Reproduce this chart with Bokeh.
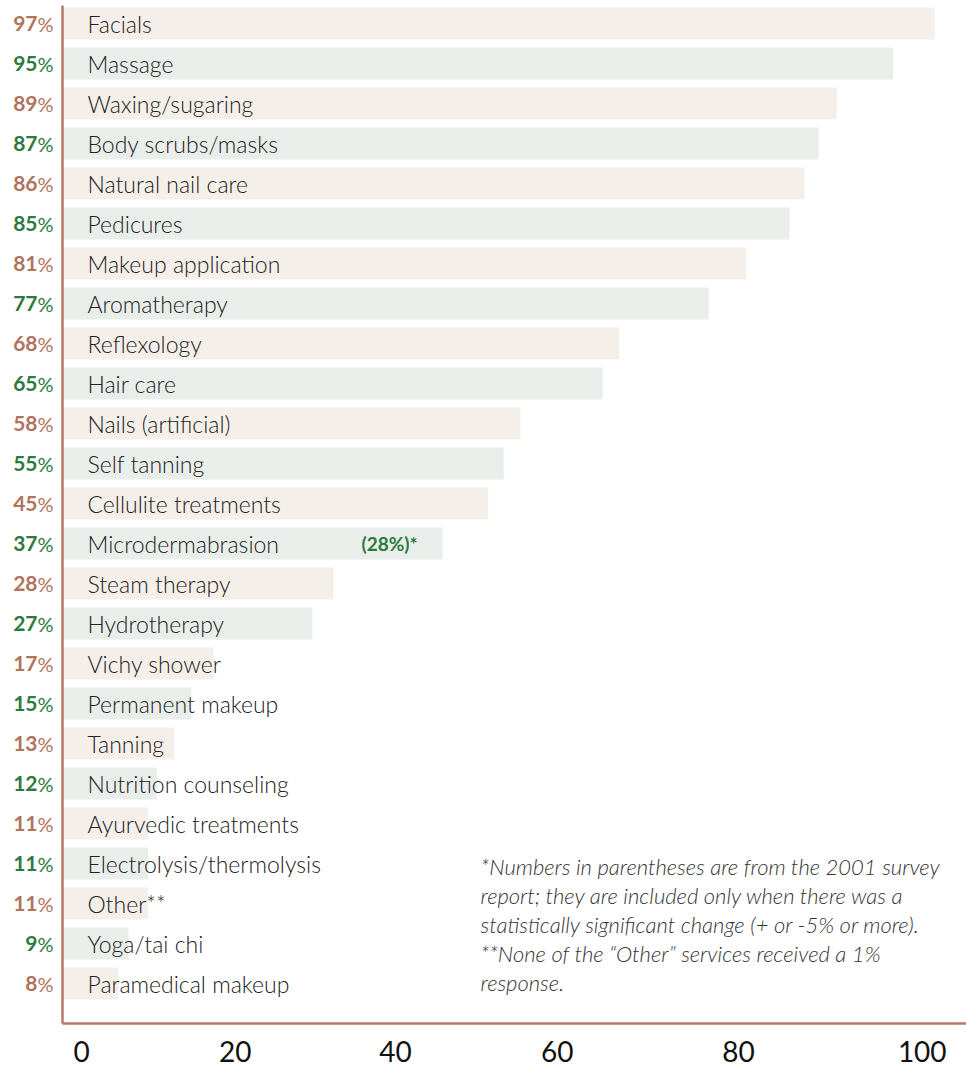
from bokeh.plotting import figure
from bokeh.models import Range1d, ColumnDataSource
from bokeh.core.properties import value
from bokeh.embed import file_html
from bokeh.resources import INLINE

# ---- data ----
services = ["Facials", "Massage", "Waxing/sugaring", "Body scrubs/masks", "Natural nail care",
            "Pedicures", "Makeup application", "Aromatherapy", "Reflexology", "Hair care",
            "Nails (artificial)", "Self tanning", "Cellulite treatments", "Microdermabrasion",
            "Steam therapy", "Hydrotherapy", "Vichy shower", "Permanent makeup", "Tanning",
            "Nutrition counseling", "Ayurvedic treatments", "Electrolysis/thermolysis",
            "Other**", "Yoga/tai chi", "Paramedical makeup"]
pct = [97, 95, 89, 87, 86, 85, 81, 77, 68, 65, 58, 55, 45, 37, 28, 27, 17, 15, 13, 12, 11, 11, 11, 9, 8]
# bar lengths as drawn in the picture, in axis units
bar_len = [108.7, 103.4, 96.2, 93.9, 92.1, 90.2, 84.7, 79.9, 68.5, 66.4, 55.9, 53.8, 51.8, 46.0,
           32.1, 29.4, 16.8, 14.0, 11.8, 9.6, 8.5, 8.5, 8.5, 6.0, 4.7]
prev_index = [13]
prev_text = ["(28%)*"]
tick_pos = [0, 19.6, 40.0, 60.6, 83.7, 107.1]
tick_labels = ["0", "20", "40", "60", "80", "100"]
footnote_lines = ["*Numbers in parentheses are from the 2001 survey",
                  "report; they are included only when there was a",
                  "statistically significant change (+ or -5% or more).",
                  "**None of the \u201cOther\u201d services received a 1%",
                  "response."]

# ---- styling ----
BEIGE = "#f5efea"
SAGE = "#e9eeea"
BROWN = "#b0735c"
GREEN = "#2e7a3e"
AXIS = "#b57a66"
TXT = "#222222"
FONT = value("Lato")
LIGHT = value("Lato Light")

W, H = 966, 1068
PX_X = 7.85          # px per axis unit
PX_Y = 40.0          # px per row
x_start = -81 / PX_X
x_end = x_start + W / PX_X
y_top = -23 / PX_Y
y_bot = y_top + H / PX_Y
axis_x = x_start + 62 / PX_X
axis_y = y_top + 1023 / PX_Y

n = len(services)
rows = list(range(n))
src = ColumnDataSource(dict(
    y=rows,
    svc=services,
    num=[str(v) for v in pct],
    pc=["%"] * n,
    right=bar_len,
    left=[axis_x] * n,
    fill=[BEIGE if i % 2 == 0 else SAGE for i in rows],
    tcol=[BROWN if i % 2 == 0 else GREEN for i in rows],
    ax=[axis_x] * n,
))

p = figure(width=W, height=H, output_backend="svg", toolbar_location=None,
           x_range=Range1d(x_start, x_end), y_range=Range1d(y_bot, y_top),
           x_axis_type=None, y_axis_type=None,
           min_border=0, min_border_left=0, min_border_right=0,
           min_border_top=0, min_border_bottom=0)
p.outline_line_color = None
p.grid.visible = False
p.background_fill_color = "white"
p.border_fill_color = "white"

p.hbar(y="y", left="left", right="right", height=0.8, fill_color="fill",
       line_color=None, source=src)

# axis lines
p.segment(x0=[axis_x], y0=[y_top + 5 / PX_Y], x1=[axis_x], y1=[axis_y],
          line_color=AXIS, line_width=2.5)
p.segment(x0=[axis_x], y0=[axis_y], x1=[x_end], y1=[axis_y],
          line_color=AXIS, line_width=2.5)

# service names
p.text(x="ax", y="y", text="svc", source=src, x_offset=25, text_align="left",
       text_baseline="middle", text_font=LIGHT, text_font_size="23px",
       text_color=TXT)

# percentage labels
p.text(x="ax", y="y", text="pc", source=src, x_offset=-9, text_align="right",
       text_baseline="middle", text_font=FONT, text_font_size="20px",
       text_color="tcol")
p.text(x="ax", y="y", text="num", source=src, x_offset=-25, text_align="right",
       text_baseline="middle", text_font=FONT, text_font_style="bold",
       text_font_size="21px", text_color="tcol")

# previous survey value
p.text(x=[bar_len[i] for i in prev_index], y=prev_index, text=prev_text,
       x_offset=-25, text_align="right", text_baseline="middle",
       text_font=FONT, text_font_style="bold", text_font_size="19px",
       text_color=GREEN)

# tick labels
p.text(x=tick_pos, y=[y_top + 1051 / PX_Y] * len(tick_pos), text=tick_labels,
       text_align="center", text_baseline="middle", text_font=FONT,
       text_font_size="28px", text_color="#111111")

# footnote (one text per line, 29 px apart)
fn_x = x_start + 480 / PX_X
fn_y = [y_top + (866 + 29 * k) / PX_Y for k in range(len(footnote_lines))]
p.text(x=[fn_x] * len(footnote_lines), y=fn_y, text=footnote_lines, text_align="left",
       text_baseline="middle", text_font=LIGHT, text_font_style="italic",
       text_font_size="22px", text_color="#333333")

open("out.html", "w").write(file_html(p, INLINE))
